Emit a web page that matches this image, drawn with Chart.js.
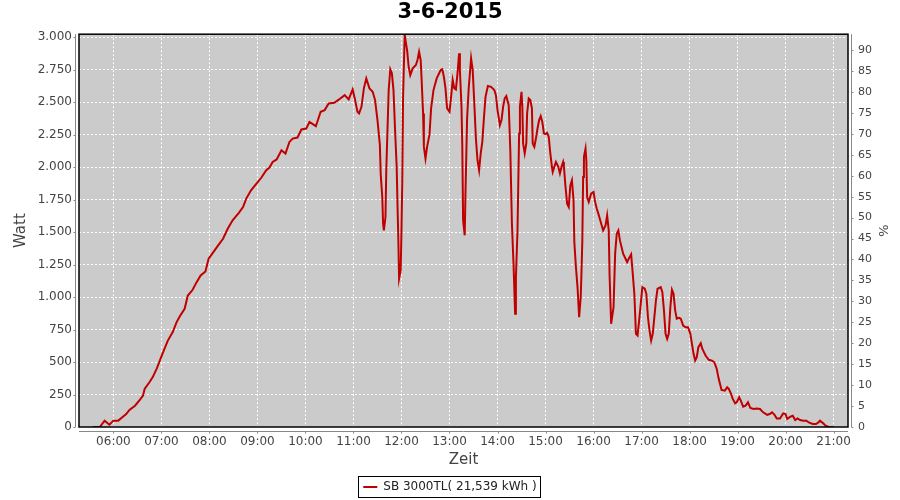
<!DOCTYPE html>
<html>
<head>
<meta charset="utf-8">
<script src="https://cdn.jsdelivr.net/npm/chart.js@4.4.0/dist/chart.umd.min.js"></script>
<style>
  body { margin: 0; background: #fff; }
</style>
</head>
<body>
<canvas id="grafico" width="900" height="500"></canvas>
<script>
const titel = '3-6-2015';
const serieName = 'SB 3000TL( 21,539 kWh )';

// Messzeitpunkte und Leistung (Watt)
const zeiten = [
  '05:34','05:43','05:49','05:55','06:00','06:06','06:10','06:16','06:20','06:27',
  '06:33','06:37','06:39','06:45','06:49','06:54','06:58','07:02','07:08','07:14',
  '07:19','07:23','07:29','07:33','07:39','07:44','07:49','07:55','07:59','08:04',
  '08:10','08:17','08:23','08:29','08:37','08:42','08:46','08:52','08:58','09:05',
  '09:11','09:15','09:19','09:24','09:30','09:35','09:40','09:44','09:50','09:55',
  '10:01','10:05','10:13','10:19','10:24','10:29','10:36','10:42','10:49','10:54',
  '10:59','11:02','11:05','11:07','11:10','11:13','11:16','11:20','11:24','11:27',
  '11:30','11:33','11:34','11:36','11:37','11:38','11:40','11:41','11:44','11:46',
  '11:48','11:50','11:52','11:54','11:55','11:56','11:57','11:59','12:00','12:01',
  '12:02','12:04','12:07','12:09','12:11','12:14','12:18','12:20','12:22','12:24',
  '12:25','12:27','12:28','12:30','12:32','12:35','12:37','12:40','12:44','12:49',
  '12:51','12:53','12:55','12:57','13:00','13:02','13:04','13:06','13:08','13:10',
  '13:12','13:13','13:15','13:16','13:17','13:19','13:20','13:22','13:24','13:27',
  '13:29','13:31','13:33','13:35','13:37','13:39','13:41','13:43','13:45','13:48',
  '13:52','13:56','13:58','14:00','14:03','14:05','14:07','14:09','14:11','14:14',
  '14:16','14:18','14:20','14:22','14:23','14:25','14:27','14:28','14:30','14:31',
  '14:32','14:34','14:36','14:37','14:39','14:41','14:43','14:44','14:46','14:48',
  '14:50','14:52','14:54','14:56','14:58','15:00','15:02','15:04','15:06','15:08',
  '15:09','15:11','15:13','15:16','15:18','15:20','15:22','15:23','15:25','15:27',
  '15:29','15:31','15:33','15:35','15:36','15:38','15:40','15:42','15:44','15:45',
  '15:46','15:47','15:48','15:50','15:51','15:52','15:54','15:57','16:00','16:02',
  '16:04','16:06','16:09','16:12','16:15','16:17','16:19','16:20','16:22','16:25',
  '16:27','16:29','16:31','16:33','16:35','16:37','16:40','16:42','16:44','16:47',
  '16:49','16:51','16:53','16:55','16:57','16:59','17:01','17:04','17:06','17:08',
  '17:10','17:12','17:14','17:16','17:18','17:20','17:24','17:26','17:28','17:30',
  '17:32','17:34','17:36','17:38','17:40','17:42','17:44','17:47','17:49','17:52',
  '17:55','17:58','18:01','18:03','18:05','18:07','18:09','18:11','18:14','18:16',
  '18:20','18:24','18:28','18:31','18:34','18:36','18:38','18:40','18:44','18:47',
  '18:49','18:52','18:54','18:57','18:59','19:02','19:04','19:07','19:10','19:13',
  '19:16','19:20','19:24','19:28','19:32','19:37','19:40','19:43','19:46','19:49',
  '19:53','19:57','20:00','20:02','20:06','20:09','20:12','20:15','20:18','20:22',
  '20:26','20:29','20:34','20:38','20:41','20:43','20:47','20:50','20:54','21:00'
];

const watt = [
  0,0,49,18,49,49,69,100,131,164,
  208,241,293,344,382,447,511,575,665,729,
  807,853,910,1012,1056,1115,1166,1197,1295,1338,
  1390,1449,1527,1591,1650,1693,1758,1822,1868,1920,
  1976,1997,2040,2059,2130,2105,2194,2220,2228,2290,
  2297,2348,2315,2426,2439,2490,2495,2521,2554,2521,
  2598,2516,2426,2413,2464,2606,2683,2606,2580,2516,
  2362,2169,1951,1770,1565,1513,1616,1976,2593,2753,
  2722,2593,2284,2002,1719,1462,1141,1205,1513,1899,
  2541,3020,2901,2772,2708,2760,2786,2824,2888,2824,
  2695,2413,2156,2066,2156,2250,2452,2593,2683,2747,
  2753,2695,2606,2452,2426,2541,2670,2606,2598,2722,
  2876,2747,2464,2156,1591,1475,1809,2375,2606,2837,
  2747,2490,2220,2053,1976,2105,2194,2375,2541,2624,
  2618,2593,2554,2439,2323,2362,2464,2529,2547,2477,
  2130,1565,1257,871,1153,1513,2259,2464,2580,2464,
  2182,2105,2182,2413,2529,2516,2452,2182,2156,2220,
  2297,2362,2393,2348,2259,2254,2264,2233,2105,2002,
  1963,2002,2040,2002,1951,2002,2040,2002,1847,1719,
  1693,1860,1899,1745,1423,1230,1076,845,1000,1205,
  1436,1924,2079,2143,2053,1770,1732,1796,1809,1732,
  1681,1642,1578,1513,1552,1629,1513,1180,794,922,
  1334,1488,1513,1436,1385,1334,1295,1269,1295,1328,
  1180,1025,717,704,820,948,1076,1064,1025,845,
  742,665,717,845,974,1064,1076,1038,897,717,
  678,717,922,1056,1025,897,833,840,833,781,
  768,768,717,640,563,511,537,614,645,601,
  550,517,511,498,447,382,332,285,280,305,
  293,254,216,182,190,228,203,157,164,190,
  146,139,143,139,113,93,100,113,95,66,
  66,105,100,62,79,87,54,66,54,49,
  49,35,23,23,35,49,28,10,0,0
];

const zeitTicks = ['06:00','07:00','08:00','09:00','10:00','11:00','12:00','13:00',
                   '14:00','15:00','16:00','17:00','18:00','19:00','20:00','21:00'];
const wattTicks = [0,250,500,750,1000,1250,1500,1750,2000,2250,2500,2750,3000];
const prozentTicks = [0,5,10,15,20,25,30,35,40,45,50,55,60,65,70,75,80,85,90];

const toMin = (s) => {
  const [h, m] = s.split(':').map(Number);
  return h * 60 + m;
};
const fmtZeit = (v) => {
  const h = Math.floor(v / 60), m = v % 60;
  return String(h).padStart(2, '0') + ':' + String(m).padStart(2, '0');
};
const fmtWatt = (v) => v >= 1000
  ? Math.floor(v / 1000) + '.' + String(v % 1000).padStart(3, '0')
  : String(v);

Chart.defaults.font.family = "'DejaVu Sans', sans-serif";
Chart.defaults.color = '#444';

const plotRahmen = {
  id: 'plotRahmen',
  beforeDraw(chart) {
    const { ctx, chartArea: a } = chart;
    ctx.save();
    ctx.fillStyle = '#cbcbcb';
    ctx.fillRect(a.left, a.top, a.width, a.height);
    ctx.restore();
  },
  afterDraw(chart) {
    const { ctx, chartArea: a, scales } = chart;
    ctx.save();
    ctx.strokeStyle = '#000';
    ctx.lineWidth = 1.5;
    ctx.strokeRect(a.left, a.top, a.width, a.height);

    // Achsenlinien mit kleinen Strichen
    ctx.strokeStyle = '#888';
    ctx.lineWidth = 1;
    ctx.beginPath();
    const xl = Math.round(a.left) - 3.5;
    ctx.moveTo(xl, a.top); ctx.lineTo(xl, a.bottom);
    wattTicks.forEach(v => {
      const y = Math.round(scales.y.getPixelForValue(v)) + 0.5;
      ctx.moveTo(xl, y); ctx.lineTo(xl - 2, y);
    });
    const yb = Math.round(a.bottom) + 4.5;
    ctx.moveTo(a.left, yb); ctx.lineTo(a.right, yb);
    zeitTicks.forEach(t => {
      const x = Math.round(scales.x.getPixelForValue(toMin(t))) + 0.5;
      ctx.moveTo(x, yb); ctx.lineTo(x, yb + 2);
    });
    const xr = Math.round(a.right) + 3.5;
    ctx.moveTo(xr, a.top); ctx.lineTo(xr, a.bottom);
    prozentTicks.forEach(v => {
      const y = Math.round(scales.y1.getPixelForValue(v)) + 0.5;
      ctx.moveTo(xr, y); ctx.lineTo(xr + 2, y);
    });
    ctx.stroke();

    // Rahmen um die Legende
    const hb = chart.legend.legendHitBoxes[0];
    if (hb) {
      ctx.strokeStyle = '#000';
      ctx.lineWidth = 1;
      ctx.strokeRect(Math.round(hb.left) - 4.5, Math.round(hb.top) - 4.5,
                     Math.round(hb.width) + 9, Math.round(hb.height) + 9);
    }
    ctx.restore();
  }
};

const gitter = { color: '#fff', lineWidth: 1, drawTicks: false, borderDash: [2, 2] };

new Chart(document.getElementById('grafico'), {
  type: 'line',
  data: {
    datasets: [{
      label: serieName,
      data: zeiten.map((z, i) => ({ x: toMin(z), y: watt[i] })),
      borderColor: '#c00000',
      backgroundColor: '#c00000',
      borderWidth: 2,
      pointRadius: 0,
      tension: 0,
      yAxisID: 'y'
    }]
  },
  options: {
    responsive: false,
    animation: false,
    devicePixelRatio: 1,
    layout: { padding: { left: 0, right: 0, top: 0, bottom: -3 } },
    plugins: {
      title: {
        display: true, text: titel, color: '#000',
        font: { size: 21, weight: 'bold' },
        padding: { top: 0, bottom: 9 }
      },
      legend: {
        position: 'bottom',
        labels: {
          usePointStyle: true, pointStyle: 'line', pointStyleWidth: 14,
          padding: 4, color: '#222', font: { size: 12 }
        }
      },
      tooltip: { enabled: false }
    },
    scales: {
      x: {
        type: 'linear', min: 317, max: 1278,
        afterBuildTicks: s => { s.ticks = zeitTicks.map(t => ({ value: toMin(t) })); },
        afterFit: s => { s.height = 50; },
        ticks: { autoSkip: false, maxRotation: 0, padding: 8, font: { size: 12 }, callback: v => fmtZeit(v) },
        grid: gitter,
        border: { display: false, dash: [2, 2] },
        title: { display: true, text: 'Zeit', font: { size: 15 }, padding: { top: 0, bottom: 8 } }
      },
      y: {
        position: 'left', min: 0, max: 3023,
        afterBuildTicks: s => { s.ticks = wattTicks.map(v => ({ value: v })); },
        afterFit: s => { s.width = 79; },
        ticks: { padding: 7, font: { size: 12 }, callback: v => fmtWatt(v) },
        grid: gitter,
        border: { display: false, dash: [2, 2] },
        title: { display: true, text: 'Watt', font: { size: 15 }, padding: { top: 12, bottom: 0 } }
      },
      y1: {
        position: 'right', min: 0, max: 93.8,
        afterBuildTicks: s => { s.ticks = prozentTicks.map(v => ({ value: v })); },
        afterFit: s => { s.width = 52; },
        ticks: { padding: 10, font: { size: 11 } },
        grid: { drawOnChartArea: false, drawTicks: false },
        border: { display: false },
        title: { display: true, text: '%', font: { size: 13 }, padding: { top: 10, bottom: 0 } }
      }
    }
  },
  plugins: [plotRahmen]
});
</script>
</body>
</html>
